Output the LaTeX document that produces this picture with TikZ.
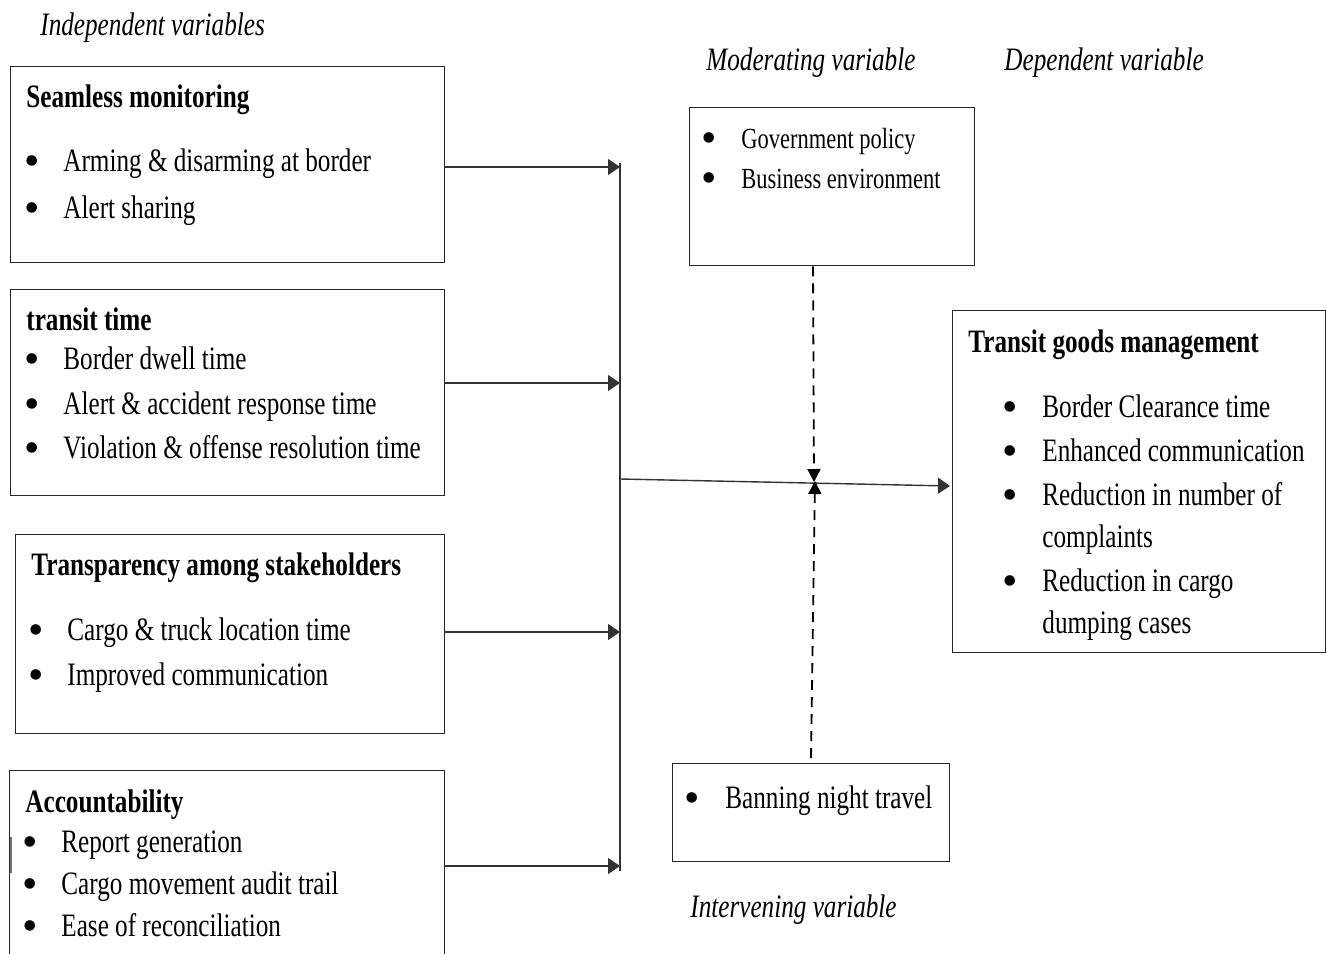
\documentclass[tikz,border=0pt]{standalone}
\usepackage{fontspec}
\setmainfont[FakeStretch=0.77]{Liberation Serif}
\newfontfamily\bulletfont{Liberation Serif}
\usetikzlibrary{arrows.meta}
\tikzset{
  box/.style={draw=black!85, line width=0.65pt, rectangle, anchor=north west, inner sep=0pt},
  txt/.style={anchor=base west, inner sep=0pt, font=\fontsize{16.35}{19}\selectfont},
  stxt/.style={anchor=base west, inner sep=0pt, font=\fontsize{14.6}{17}\selectfont},
  ttl/.style={txt, font=\fontsize{16.35}{19}\selectfont\bfseries},
  lbl/.style={txt, font=\fontsize{16.35}{19}\selectfont\itshape},
  bul/.style={anchor=base, inner sep=0pt, yshift=-2pt, font=\bulletfont\fontsize{22}{19}\selectfont},
  conn/.style={draw=black!80, line width=0.7pt},
  arr/.style={conn, -{Triangle[length=6pt,width=8pt]}},
  darr/.style={draw=black, line width=0.9pt, dash pattern=on 5pt off 3.5pt, -{Triangle[length=6.5pt,width=6.5pt]}},
}
\begin{document}
\begin{tikzpicture}[x=0.5pt,y=-0.5pt]
\clip (0,0) rectangle (1327,953);
\fill[white] (0,0) rectangle (1327,953);

% labels
\node[lbl] (lind) at (40,35) {Independent variables};
\node[lbl] (lmod) at (706,70) {Moderating variable};
\node[lbl] (ldep) at (1004,70) {Dependent variable};
\node[lbl] (lint) at (690,917) {Intervening variable};

% box 1
\node[box, minimum width=217pt, minimum height=98pt] (b1) at (10,66) {};
\node[ttl] (b1t) at (26,107) {Seamless monitoring};
\node[bul] (b1a) at (32,171) {•};
\node[txt] (b1at) at (63,171) {Arming \& disarming at border};
\node[bul] (b1b) at (32,218) {•};
\node[txt] (b1bt) at (63,218) {Alert sharing};

% box 2
\node[box, minimum width=217pt, minimum height=103pt] (b2) at (10,289) {};
\node[ttl] (b2t) at (26,330) {transit time};
\node[bul] (b2a) at (32,369) {•};
\node[txt] (b2at) at (63,369) {Border dwell time};
\node[bul] (b2b) at (32,414) {•};
\node[txt] (b2bt) at (63,414) {Alert \& accident response time};
\node[bul] (b2c) at (32,458) {•};
\node[txt] (b2ct) at (63,458) {Violation \& offense resolution time};

% box 3
\node[box, minimum width=214.5pt, minimum height=99.5pt] (b3) at (15,534) {};
\node[ttl] (b3t) at (31,575) {Transparency among stakeholders};
\node[bul] (b3a) at (36,640) {•};
\node[txt] (b3at) at (67,640) {Cargo \& truck location time};
\node[bul] (b3b) at (36,685) {•};
\node[txt] (b3bt) at (67,685) {Improved communication};

% box 4 (cut at bottom)
\node[box, minimum width=217.5pt, minimum height=115pt] (b4) at (9,770) {};
\draw[black!55, line width=1pt] (10.5,837) -- (10.5,873);
\node[ttl] (b4t) at (25,812) {Accountability};
\node[bul] (b4a) at (30,852) {•};
\node[txt] (b4at) at (61,852) {Report generation};
\node[bul] (b4b) at (30,894) {•};
\node[txt] (b4bt) at (61,894) {Cargo movement audit trail};
\node[bul] (b4c) at (30,936) {•};
\node[txt] (b4ct) at (61,936) {Ease of reconciliation};

% moderating box
\node[box, minimum width=142.5pt, minimum height=79pt] (mod) at (689,107) {};
\node[bul] (moda) at (709,148) {•};
\node[stxt] (modat) at (741,148) {Government policy};
\node[bul] (modb) at (709,188) {•};
\node[stxt] (modbt) at (741,188) {Business environment};

% intervening box
\node[box, minimum width=138.5pt, minimum height=49pt] (int) at (672,763) {};
\node[bul] (inta) at (692,808) {•};
\node[txt] (intat) at (725,808) {Banning night travel};

% dependent box
\node[box, minimum width=186.5pt, minimum height=171pt] (dep) at (952,310) {};
\node[ttl] (dept) at (968,352) {Transit goods management};
\node[bul] (depa) at (1010,417) {•};
\node[txt] (depat) at (1042,417) {Border Clearance time};
\node[bul] (depb) at (1010,461) {•};
\node[txt] (depbt) at (1042,461) {Enhanced communication};
\node[bul] (depc) at (1010,505) {•};
\node[txt] (depct) at (1042,505) {Reduction in number of};
\node[txt] (depct2) at (1042,547) {complaints};
\node[bul] (depd) at (1010,591) {•};
\node[txt] (depdt) at (1042,591) {Reduction in cargo};
\node[txt] (depdt2) at (1042,633) {dumping cases};

% connectors
\coordinate (j1) at (620,167);
\coordinate (j2) at (620,383);
\coordinate (j3) at (620,632);
\coordinate (j4) at (620,866);
\coordinate (vtop) at (620,163);
\coordinate (vbot) at (620,871);
\coordinate (m0) at (620,479);
\coordinate (m1) at (950,486);
\coordinate (dm) at (814,482);
\coordinate (dt) at (813,265);
\coordinate (db) at (811,758);
\coordinate (du) at (815,481);

\draw[conn] (vtop) -- (vbot);
\draw[arr] (b1.east |- j1) -- (j1);
\draw[arr] (b2.east |- j2) -- (j2);
\draw[arr] (b3.east |- j3) -- (j3);
\draw[arr] (b4.east |- j4) -- (j4);
\draw[arr] (m0) -- (m1);
\draw[darr] (mod.south -| dt) -- (dm);
\draw[darr] (db) -- (du);
\end{tikzpicture}
\end{document}
